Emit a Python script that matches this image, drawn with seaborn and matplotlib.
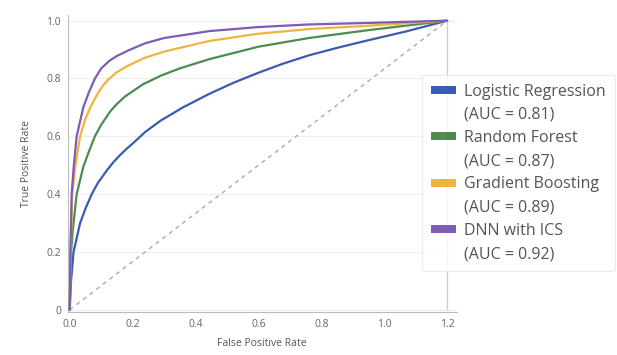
import matplotlib
matplotlib.use("Agg")
import matplotlib.pyplot as plt
from matplotlib.patches import Patch
import pandas as pd
import seaborn as sns

# ROC curves (x scaled 0..1.2)
lr_fpr = [0, 0.004, 0.012, 0.033, 0.05, 0.07, 0.09, 0.12, 0.14, 0.16, 0.18, 0.2, 0.24, 0.29, 0.36, 0.44, 0.52, 0.6, 0.68, 0.76, 0.85, 0.94, 1.07, 1.2]
lr_tpr = [0, 0.10, 0.20, 0.30, 0.35, 0.40, 0.44, 0.485, 0.512, 0.535, 0.556, 0.575, 0.615, 0.655, 0.70, 0.745, 0.785, 0.82, 0.852, 0.88, 0.906, 0.93, 0.963, 1.0]

rf_fpr = [0, 0.002, 0.004, 0.01, 0.022, 0.043, 0.06, 0.08, 0.1, 0.13, 0.15, 0.176, 0.233, 0.29, 0.35, 0.444, 0.6, 0.76, 0.94, 1.07, 1.2]
rf_tpr = [0, 0.12, 0.20, 0.28, 0.40, 0.494, 0.545, 0.60, 0.64, 0.688, 0.712, 0.738, 0.78, 0.81, 0.835, 0.867, 0.91, 0.94, 0.966, 0.983, 1.0]

gb_fpr = [0, 0.002, 0.004, 0.008, 0.018, 0.033, 0.048, 0.065, 0.09, 0.105, 0.123, 0.15, 0.186, 0.24, 0.3, 0.444, 0.6, 0.76, 0.94, 1.2]
gb_tpr = [0, 0.15, 0.25, 0.40, 0.50, 0.60, 0.655, 0.70, 0.75, 0.775, 0.797, 0.822, 0.845, 0.872, 0.893, 0.93, 0.955, 0.971, 0.982, 1.0]

dnn_fpr = [0, 0.002, 0.006, 0.013, 0.022, 0.043, 0.06, 0.08, 0.1, 0.127, 0.15, 0.186, 0.24, 0.3, 0.444, 0.6, 0.76, 0.94, 1.2]
dnn_tpr = [0, 0.20, 0.40, 0.50, 0.60, 0.70, 0.75, 0.80, 0.835, 0.862, 0.878, 0.897, 0.922, 0.94, 0.964, 0.978, 0.987, 0.992, 1.0]

models = ["Logistic Regression", "Random Forest", "Gradient Boosting", "DNN with ICS"]
aucs = [0.81, 0.87, 0.89, 0.92]
colors = ["#3b5bb0", "#4c8c4f", "#f0b43c", "#7b5cb6"]

x_ticks = [0.0, 0.2, 0.4, 0.6, 0.8, 1.0, 1.2]
y_ticks = [0, 0.2, 0.4, 0.6, 0.8, 1.0]
y_tick_labels = ["0", "0.2", "0.4", "0.6", "0.8", "1.0"]

curves = [(lr_fpr, lr_tpr), (rf_fpr, rf_tpr), (gb_fpr, gb_tpr), (dnn_fpr, dnn_tpr)]
frames = []
for name, (fx, ty) in zip(models, curves):
    frames.append(pd.DataFrame({"fpr": fx, "tpr": ty, "model": name}))
df = pd.concat(frames, ignore_index=True)

sns.set_style("white")
plt.rcParams["font.family"] = ["Open Sans", "DejaVu Sans"]

fig = plt.figure(figsize=(6.17, 3.55), dpi=100)
ax = fig.add_axes([0.110, 0.121, 0.630, 0.837])

# chance line and right boundary
ax.plot([0, x_ticks[-1]], [0, 1], ls=(0, (3, 3)), color="#aaaaaa", lw=1.0, zorder=1)
ax.vlines(x_ticks[-1], 0, 1, color="#cccccc", lw=1.0, zorder=1)

sns.lineplot(data=df, x="fpr", y="tpr", hue="model", hue_order=models,
             palette=colors, sort=False, lw=1.6, ax=ax, legend=False, zorder=3)

ax.set_xlim(-0.006, 1.23)
ax.set_ylim(-0.008, 1.02)
ax.set_xticks(x_ticks)
ax.set_xticklabels([f"{t:.1f}" for t in x_ticks])
ax.set_yticks(y_ticks)
ax.set_yticklabels(y_tick_labels)
ax.yaxis.grid(True, color="#eeeeee", lw=0.8)
ax.set_axisbelow(True)

for side in ["top", "right"]:
    ax.spines[side].set_visible(False)
for side in ["left", "bottom"]:
    ax.spines[side].set_color("#bbbbbb")
    ax.spines[side].set_linewidth(0.8)

ax.tick_params(axis="both", labelsize=7.5, colors="#666666", length=3, width=0.6,
               color="#bbbbbb", pad=2)
ax.set_xlabel("False Positive Rate", fontsize=7.5, color="#555555", labelpad=6)
ax.set_ylabel("True Positive Rate", fontsize=7.5, color="#555555", labelpad=10)

# legend: model name row with swatch, AUC row below it without a swatch
handles, labels = [], []
for m, a, c in zip(models, aucs, colors):
    handles.append(Patch(facecolor=c, edgecolor="none"))
    labels.append(m)
    handles.append(Patch(facecolor="none", edgecolor="none"))
    labels.append(f"(AUC = {a:.2f})")

leg = fig.legend(handles, labels, loc="upper left", bbox_to_anchor=(0.684, 0.789),
                 borderaxespad=0, fontsize=11.5, frameon=True, handlelength=1.55,
                 handleheight=0.42, handletextpad=0.55, labelspacing=0.45,
                 borderpad=0.55)
leg.get_frame().set_edgecolor("#e6e6e6")
leg.get_frame().set_linewidth(0.8)
for t in leg.get_texts():
    t.set_color("#555555")

fig.savefig("out.png", dpi=100)
